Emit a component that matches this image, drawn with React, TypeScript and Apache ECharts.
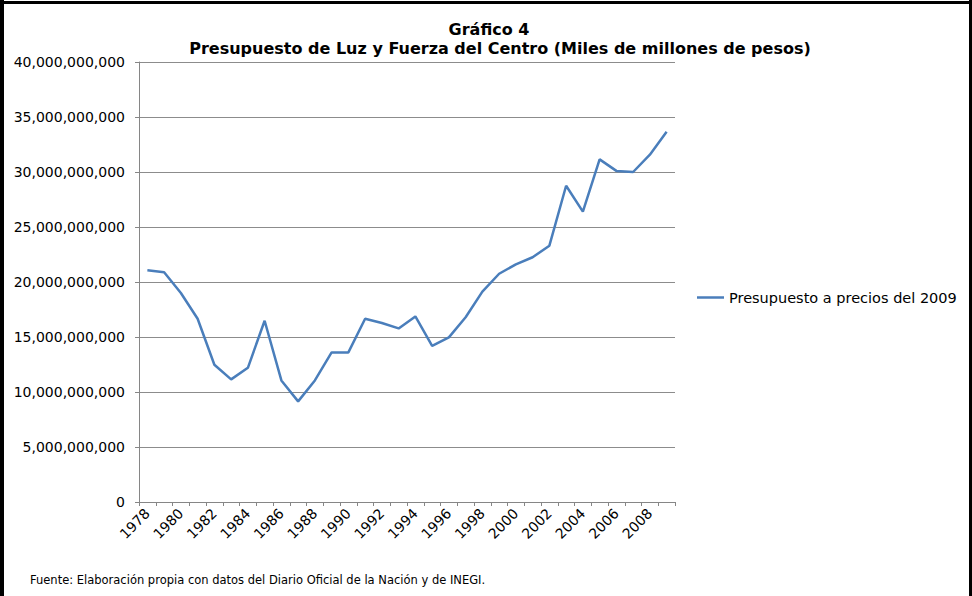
import React, { useEffect, useRef } from "react";
import * as echarts from "echarts";

const years: string[] = [
  "1978", "1979", "1980", "1981", "1982", "1983", "1984", "1985", "1986", "1987",
  "1988", "1989", "1990", "1991", "1992", "1993", "1994", "1995", "1996", "1997",
  "1998", "1999", "2000", "2001", "2002", "2003", "2004", "2005", "2006", "2007",
  "2008", "2009",
];

// Presupuesto a precios del 2009, in thousands of millions of pesos
const budgetBillions: number[] = [
  21.06, 20.88, 19.0, 16.66, 12.48, 11.15, 12.2, 16.48, 11.05, 9.15,
  11.05, 13.6, 13.6, 16.66, 16.27, 15.78, 16.87, 14.2, 14.97, 16.8,
  19.12, 20.75, 21.6, 22.25, 23.3, 28.75, 26.4, 31.15, 30.1, 30.0,
  31.57, 33.66,
];

const seriesName = "Presupuesto a precios del 2009";
const titleLine1 = "Gráfico 4";
const titleLine2 = "Presupuesto de Luz y Fuerza del Centro (Miles de millones de pesos)";
const footer = "Fuente: Elaboración propia con datos del Diario Oficial de la Nación y de INEGI.";

const FONT = "'DejaVu Sans', 'Liberation Sans', Arial, sans-serif";

export default function App() {
  const ref = useRef<HTMLDivElement>(null);

  useEffect(() => {
    document.body.style.margin = "0";
    if (!ref.current) return;
    const chart = echarts.init(ref.current, undefined, { renderer: "svg" });
    const values = budgetBillions.map((v) => Math.round(v * 1e9));
    chart.setOption({
      animation: false,
      backgroundColor: "#ffffff",
      textStyle: { fontFamily: FONT },
      grid: { left: 139, right: 297, top: 62, bottom: 94 },
      legend: {
        show: true,
        data: [seriesName],
        left: 697,
        top: 290,
        padding: 0,
        icon: "rect",
        itemWidth: 27,
        itemHeight: 2.5,
        textStyle: { fontFamily: FONT, fontSize: 14.5, color: "#000" },
      },
      xAxis: {
        type: "category",
        data: years,
        boundaryGap: true,
        axisLine: { show: true, lineStyle: { color: "#868686", width: 1 } },
        axisTick: { show: true, interval: 0, length: 4, lineStyle: { color: "#868686" } },
        axisLabel: {
          interval: 1,
          rotate: 45,
          margin: 9,
          fontFamily: FONT,
          fontSize: 14,
          color: "#000",
        },
        splitLine: { show: false },
      },
      yAxis: {
        type: "value",
        min: 0,
        max: 40000000000,
        interval: 5000000000,
        axisLine: { show: true, lineStyle: { color: "#868686", width: 1 } },
        axisTick: { show: true, length: 4, lineStyle: { color: "#868686" } },
        axisLabel: {
          margin: 14,
          fontFamily: FONT,
          fontSize: 14,
          color: "#000",
          formatter: (v: number) => v.toLocaleString("en-US"),
        },
        splitLine: { show: true, lineStyle: { color: "#8c8c8c", width: 1 } },
      },
      series: [
        {
          name: seriesName,
          type: "line",
          data: values,
          showSymbol: false,
          symbol: "none",
          lineStyle: { color: "#4a7ebb", width: 2.5 },
          itemStyle: { color: "#4a7ebb" },
        },
      ],
      graphic: [
        { type: "rect", shape: { x: 0, y: 0, width: 4, height: 596 }, style: { fill: "#000" }, silent: true },
        { type: "rect", shape: { x: 0, y: 1, width: 972, height: 3 }, style: { fill: "#000" }, silent: true },
        { type: "rect", shape: { x: 969, y: 0, width: 3, height: 596 }, style: { fill: "#000" }, silent: true },
        {
          type: "text",
          x: 489,
          y: 29,
          style: {
            text: titleLine1,
            textAlign: "center",
            textVerticalAlign: "middle",
            font: `bold 16px ${FONT}`,
            fill: "#000",
          },
        },
        {
          type: "text",
          x: 500,
          y: 48,
          style: {
            text: titleLine2,
            textAlign: "center",
            textVerticalAlign: "middle",
            font: `bold 16px ${FONT}`,
            fill: "#000",
          },
        },
        {
          type: "text",
          x: 30,
          y: 580,
          style: {
            text: footer,
            textAlign: "left",
            textVerticalAlign: "middle",
            font: `11.5px ${FONT}`,
            fill: "#000",
          },
        },
      ],
    });
    return () => {
      chart.dispose();
    };
  }, []);

  return (
    <div
      ref={ref}
      style={{ position: "fixed", left: 0, top: 0, width: 972, height: 596 }}
    />
  );
}
